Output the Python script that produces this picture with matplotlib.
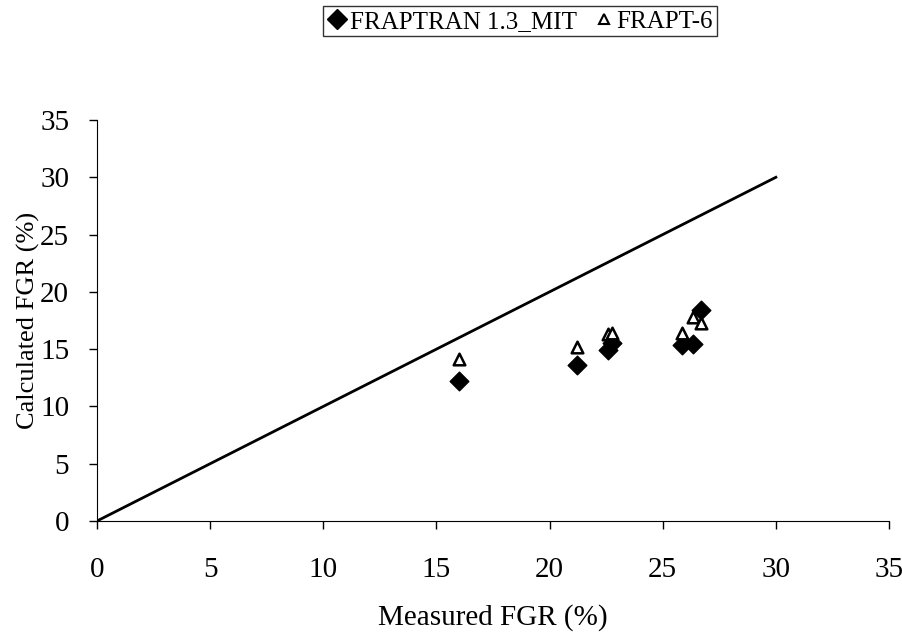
import numpy as np
import matplotlib.pyplot as plt
from matplotlib.lines import Line2D

plt.rcParams['font.family'] = ['Liberation Serif', 'DejaVu Serif']

# measured vs calculated fission gas release (%)
measured = [16.0, 21.2, 22.6, 22.75, 25.85, 26.35, 26.7]
fraptran = [12.2, 13.6, 14.9, 15.5, 15.4, 15.45, 18.4]
frapt6 = [14.1, 15.15, 16.3, 16.4, 16.4, 17.8, 17.25]
ref_line = [0, 30]

fig = plt.figure(figsize=(9.03, 6.37), dpi=100)
ax = fig.add_axes([0.1074, 0.1821, 0.8771, 0.6295])

ax.plot(ref_line, ref_line, color='black', linewidth=2)
ax.scatter(measured, fraptran, marker='D', s=90, color='black', zorder=3)
ax.scatter(measured, frapt6, marker='^', s=70, facecolor='white',
           edgecolor='black', linewidth=1.8, zorder=4)

ax.set_xlim(0, 35)
ax.set_ylim(0, 35)
ax.set_xticks(np.arange(0, 36, 5))
ax.set_yticks(np.arange(0, 36, 5))
ax.tick_params(direction='out', length=6, width=1, labelsize=21)
ax.tick_params(axis='x', pad=20)
ax.tick_params(axis='y', pad=14)
for side in ['top', 'right']:
    ax.spines[side].set_visible(False)
ax.set_xlabel('Measured FGR (%)', fontsize=21, labelpad=15)
ax.set_ylabel('Calculated FGR (%)', fontsize=19, labelpad=0)

handles = [
    Line2D([], [], linestyle='none', marker='D', markersize=10, color='black'),
    Line2D([], [], linestyle='none', marker='^', markersize=7,
           markerfacecolor='white', markeredgecolor='black', markeredgewidth=1.5),
]
leg = fig.legend(handles, ['FRAPTRAN 1.3_MIT', 'FRAPT-6'],
                 loc='upper center', bbox_to_anchor=(0.576, 0.99), ncol=2,
                 fontsize=18, frameon=True, fancybox=False, edgecolor='black',
                 handletextpad=0.1, columnspacing=0.7, borderpad=0.15,
                 handlelength=0.8, borderaxespad=0)
leg.get_frame().set_linewidth(1)

fig.savefig('out.png', dpi=100)
